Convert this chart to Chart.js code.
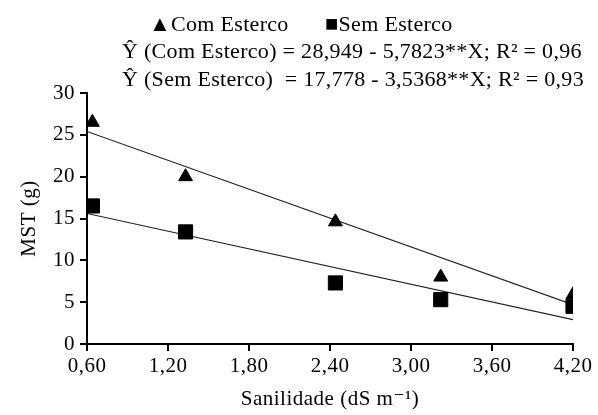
<!DOCTYPE html>
<html>
<head>
<meta charset="utf-8">
<script src="https://cdn.jsdelivr.net/npm/chart.js@4/dist/chart.umd.min.js"></script>
<style>
  html, body { margin: 0; padding: 0; background: #fff; }
  #wrap { width: 598px; height: 415px; }
</style>
</head>
<body>
<div id="wrap"><canvas id="grafico"></canvas></div>
<script>
// salinidade (dS m-1) de cada amostra
const salinidade = [0.64, 1.33, 2.44, 3.22, 4.2];
const comEsterco = [26.5, 20.0, 14.6, 8.0, 5.9];
const semEsterco = [16.5, 13.4, 7.3, 5.3, 4.5];
// extremos das retas ajustadas
const retaX = [0.6, 4.2];
const retaCom = [25.4, 4.7];
const retaSem = [15.6, 2.9];
const eqCom = 'Ŷ (Com Esterco) = 28,949 - 5,7823**X; R² = 0,96';
const eqSem = 'Ŷ (Sem Esterco)  = 17,778 - 3,5368**X; R² = 0,93';

const fonte = '"Liberation Serif", "DejaVu Serif", serif';

function pontos(xs, ys) {
  return xs.map((x, i) => ({ x: x, y: ys[i] }));
}

// espaçamento das letras, o original é mais largo
const espacamento = {
  id: 'espacamento',
  beforeLayout(chart) { chart.ctx.letterSpacing = '0.5px'; },
  beforeDraw(chart) { chart.ctx.letterSpacing = '0.5px'; }
};

// texto do topo (legenda e equações)
const cabecalho = {
  id: 'cabecalho',
  afterDraw(chart) {
    const ctx = chart.ctx;
    ctx.save();
    ctx.fillStyle = '#000';
    ctx.textBaseline = 'middle';
    ctx.textAlign = 'left';
    ctx.letterSpacing = '0.3px';
    ctx.font = '22px ' + fonte;
    ctx.fillText('▲Com Esterco', 149, 25);
    ctx.fillText('■Sem Esterco', 325, 25);
    ctx.fillText(eqCom, 122, 52);
    ctx.fillText(eqSem, 122, 80);
    ctx.restore();
  }
};

new Chart(document.getElementById('grafico'), {
  type: 'scatter',
  data: {
    datasets: [
      {
        label: 'Com Esterco',
        data: pontos(salinidade, comEsterco),
        pointStyle: 'triangle',
        pointRadius: 8,
        backgroundColor: '#000',
        borderColor: '#000'
      },
      {
        label: 'Sem Esterco',
        data: pontos(salinidade, semEsterco),
        pointStyle: 'rect',
        pointRadius: 10,
        backgroundColor: '#000',
        borderColor: '#000'
      },
      {
        type: 'line',
        data: pontos(retaX, retaCom),
        borderColor: '#222',
        borderWidth: 1.2,
        pointRadius: 0
      },
      {
        type: 'line',
        data: pontos(retaX, retaSem),
        borderColor: '#222',
        borderWidth: 1.2,
        pointRadius: 0
      }
    ]
  },
  options: {
    responsive: true,
    maintainAspectRatio: false,
    animation: false,
    layout: { padding: { top: 93, right: 25, left: 0, bottom: 0 } },
    plugins: {
      legend: { display: false },
      tooltip: { enabled: false }
    },
    scales: {
      x: {
        type: 'linear',
        min: 0.6,
        max: 4.2,
        ticks: {
          stepSize: 0.6,
          color: '#000',
          font: { family: fonte, size: 21 },
          padding: 3,
          callback: v => v.toFixed(2).replace('.', ',')
        },
        grid: { drawOnChartArea: false, drawTicks: true, tickLength: 7, color: '#000', lineWidth: 2 },
        border: { color: '#000', width: 2 },
        title: {
          display: true,
          text: 'Sanilidade (dS m⁻¹)',
          color: '#000',
          font: { family: fonte, size: 21 },
          padding: { top: 4, bottom: 3 }
        },
        afterFit: s => { s.height = 71; }
      },
      y: {
        min: 0,
        max: 30,
        ticks: {
          stepSize: 5,
          color: '#000',
          font: { family: fonte, size: 21 },
          padding: 5
        },
        grid: { drawOnChartArea: false, drawTicks: true, tickLength: 7, color: '#000', lineWidth: 2 },
        border: { color: '#000', width: 2 },
        title: {
          display: true,
          text: 'MST (g)',
          color: '#000',
          font: { family: fonte, size: 21 },
          padding: { top: 17, bottom: 2 }
        },
        afterFit: s => { s.width = 87; }
      }
    }
  },
  plugins: [espacamento, cabecalho]
});
</script>
</body>
</html>
